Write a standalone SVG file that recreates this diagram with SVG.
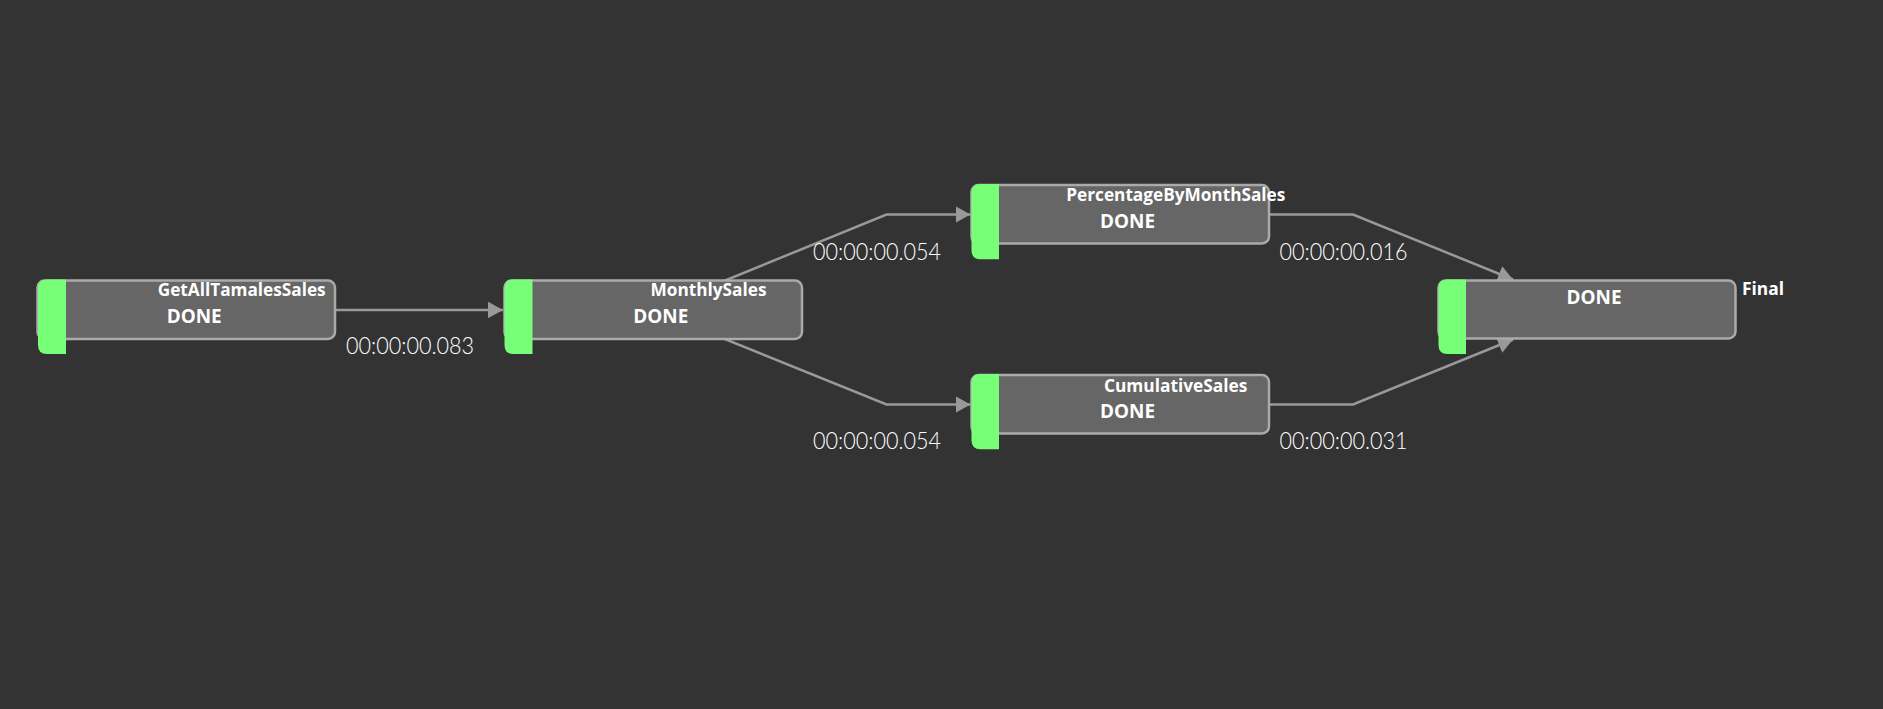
<svg xmlns="http://www.w3.org/2000/svg" width="1883" height="709" viewBox="0 0 1883 709">
<style>
.bg{fill:#333333}
.box{fill:#666666;stroke:#aaaaaa;stroke-width:2.5}
.bar{fill:#77ff77}
.title{font-family:"Open Sans","Noto Sans","Liberation Sans",sans-serif;font-weight:700;font-size:17.5px;fill:#ffffff}
.state{font-family:"Open Sans","Noto Sans","Liberation Sans",sans-serif;font-weight:700;font-size:19.5px;fill:#ffffff}
.lbl{font-family:"Lato","Open Sans","Liberation Sans",sans-serif;font-weight:300;font-size:22.5px;fill:#ffffff}
.edge{fill:none;stroke:#999999;stroke-width:2.5}
</style>
<defs>
<marker id="arrow" markerUnits="userSpaceOnUse" markerWidth="16" markerHeight="17" refX="15" refY="8.3" orient="auto">
<path d="M0,0 L15,8.3 L0,16.6 Z" fill="#999999"/>
</marker>
</defs>
<rect class="bg" x="0" y="0" width="1883" height="709"/>
<g id="connectors">
<path class="edge" d="M186,310 L503,310" marker-end="url(#arrow)"/>
<path class="edge" d="M653,310 L886.5,214.5 L970.5,214.5" marker-end="url(#arrow)"/>
<path class="edge" d="M653,310 L886.5,404.5 L970.5,404.5" marker-end="url(#arrow)"/>
<path class="edge" d="M1120,214.5 L1353,214.5 L1513,279.5" marker-end="url(#arrow)"/>
<path class="edge" d="M1120,404.5 L1353,404.5 L1513,339.5" marker-end="url(#arrow)"/>
<text class="lbl" x="346" y="354" textLength="128" lengthAdjust="spacingAndGlyphs">00:00:00.083</text>
<text class="lbl" x="813" y="260" textLength="128" lengthAdjust="spacingAndGlyphs">00:00:00.054</text>
<text class="lbl" x="813" y="449" textLength="128" lengthAdjust="spacingAndGlyphs">00:00:00.054</text>
<text class="lbl" x="1279.5" y="259.5" textLength="128" lengthAdjust="spacingAndGlyphs">00:00:00.016</text>
<text class="lbl" x="1279.5" y="449" textLength="128" lengthAdjust="spacingAndGlyphs">00:00:00.031</text>
</g>
<g id="node-GetAllTamalesSales">
<rect class="box" x="37.5" y="280.5" width="297.5" height="58.5" rx="7"/>
<path class="bar" d="M66,279.5 L47,279.5 Q38,279.5 38,288.5 L38,345 Q38,354 47,354 L66,354 Z"/>
<text class="title" x="241.7" y="296" text-anchor="middle" textLength="168" lengthAdjust="spacingAndGlyphs">GetAllTamalesSales</text>
<text class="state" x="166.7" y="323" textLength="55" lengthAdjust="spacingAndGlyphs">DONE</text>
</g>
<g id="node-MonthlySales">
<rect class="box" x="504.5" y="280.5" width="297.5" height="58.5" rx="7"/>
<path class="bar" d="M532.5,279.5 L513.5,279.5 Q504.5,279.5 504.5,288.5 L504.5,345 Q504.5,354 513.5,354 L532.5,354 Z"/>
<text class="title" x="708.5" y="296" text-anchor="middle" textLength="116" lengthAdjust="spacingAndGlyphs">MonthlySales</text>
<text class="state" x="633.3" y="323" textLength="55" lengthAdjust="spacingAndGlyphs">DONE</text>
</g>
<g id="node-PercentageByMonthSales">
<rect class="box" x="971.5" y="185" width="297.5" height="58.5" rx="7"/>
<path class="bar" d="M999,184 L980.5,184 Q971.5,184 971.5,193 L971.5,250.3 Q971.5,259.3 980.5,259.3 L999,259.3 Z"/>
<text class="title" x="1175.8" y="201" text-anchor="middle" textLength="219" lengthAdjust="spacingAndGlyphs">PercentageByMonthSales</text>
<text class="state" x="1100" y="227.5" textLength="55" lengthAdjust="spacingAndGlyphs">DONE</text>
</g>
<g id="node-CumulativeSales">
<rect class="box" x="971.5" y="375" width="297.5" height="58.5" rx="7"/>
<path class="bar" d="M999,374 L980.5,374 Q971.5,374 971.5,383 L971.5,440.3 Q971.5,449.3 980.5,449.3 L999,449.3 Z"/>
<text class="title" x="1175.7" y="391.5" text-anchor="middle" textLength="143.5" lengthAdjust="spacingAndGlyphs">CumulativeSales</text>
<text class="state" x="1100" y="418" textLength="55" lengthAdjust="spacingAndGlyphs">DONE</text>
</g>
<g id="node-Final">
<rect class="box" x="1438.5" y="280.5" width="297" height="58" rx="7"/>
<path class="bar" d="M1466,279.5 L1447.5,279.5 Q1438.5,279.5 1438.5,288.5 L1438.5,345 Q1438.5,354 1447.5,354 L1466,354 Z"/>
<text class="state" x="1566.5" y="303.5" textLength="55" lengthAdjust="spacingAndGlyphs">DONE</text>
<text class="title" x="1742" y="295" textLength="42" lengthAdjust="spacingAndGlyphs">Final</text>
</g>
</svg>
